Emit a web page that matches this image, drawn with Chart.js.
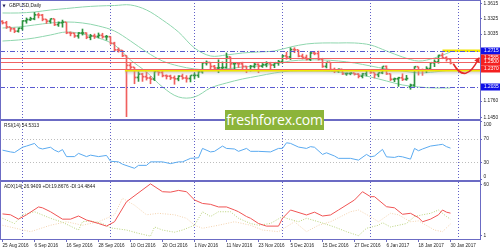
<!DOCTYPE html>
<html><head><meta charset="utf-8">
<script src="https://cdn.jsdelivr.net/npm/chart.js@4.4.1/dist/chart.umd.min.js"></script>
<style>
html,body{margin:0;padding:0;background:#fff;overflow:hidden}
#wrap{position:relative;width:500px;height:250px;background:#fff;overflow:hidden}
canvas{position:absolute;left:0}
.ln{position:absolute;background:#6b6bc4}
#wm{position:absolute;left:225px;top:110px;width:99px;height:20px;background:#8cb43a;color:#fff;font-family:'Open Sans',sans-serif;font-size:14px;line-height:20px;text-align:center;letter-spacing:-0.2px;white-space:nowrap}
</style></head><body>
<div id="wrap">
 <canvas id="cP" width="500" height="120" style="top:0;width:500px;height:120px"></canvas>
 <canvas id="cR" width="500" height="62" style="top:120px;width:500px;height:62px"></canvas>
 <canvas id="cA" width="500" height="68" style="top:182px;width:500px;height:68px"></canvas>
 <div class="ln" style="left:0;top:0;width:481px;height:1px"></div>
 <div class="ln" style="left:0;top:0;width:1px;height:240px"></div>
 <div class="ln" style="left:0;top:119px;width:481px;height:2px"></div>
 <div class="ln" style="left:0;top:180px;width:481px;height:2px"></div>
 <div id="wm">freshforex.com</div>
</div>
<script>
// ---------- data ----------
const symTitle = 'GBPUSD,Daily';
const rsiTitle = 'RSI(14) 54.5313';
const adxTitle = 'ADX(14) 26.9409 +DI:19.8676 -DI:14.4844';

const openP = [
1.3265,1.3240,1.3160,1.3125,1.3080,1.3135,1.3275,1.3300,1.3315,1.3390,
1.3385,1.3305,1.3270,1.3315,1.3205,1.3240,1.3250,1.3050,1.3040,1.2990,
1.3045,1.3045,1.2965,1.2990,1.2980,1.3000,1.2975,1.2975,1.2850,1.2725,
1.2715,1.2615,1.2430,1.2395,1.2200,1.2265,1.2215,1.2190,1.2170,1.2315,
1.2295,1.2235,1.2225,1.2195,1.2175,1.2225,1.2190,1.2180,1.2240,1.2240,
1.2310,1.2480,1.2485,1.2410,1.2380,1.2385,1.2390,1.2590,1.2460,1.2465,
1.2460,1.2410,1.2345,1.2410,1.2450,1.2415,1.2445,1.2475,1.2435,1.2480,
1.2500,1.2610,1.2590,1.2730,1.2725,1.2605,1.2580,1.2545,1.2665,1.2655,
1.2550,1.2410,1.2490,1.2350,1.2330,1.2355,1.2270,1.2275,1.2285,1.2265,
1.2225,1.2270,1.2340,1.2295,1.2255,1.2290,1.2410,1.2270,1.2165,1.2175,
1.2195,1.2165,1.2020,1.2055,1.2405,1.2345,1.2335,1.2370,1.2480,1.2495,
1.2620,1.2575,1.2550];
const highP = [
1.3290,1.3277,1.3165,1.3150,1.3150,1.3290,1.3340,1.3355,1.3445,1.3435,
1.3410,1.3315,1.3325,1.3320,1.3265,1.3300,1.3255,1.3075,1.3055,1.3065,
1.3130,1.3060,1.3030,1.3035,1.3055,1.3050,1.3010,1.2985,1.2880,1.2770,
1.2725,1.2625,1.2495,1.2400,1.2320,1.2290,1.2310,1.2230,1.2330,1.2335,
1.2340,1.2260,1.2255,1.2240,1.2245,1.2275,1.2245,1.2245,1.2295,1.2335,
1.2495,1.2525,1.2495,1.2440,1.2545,1.2505,1.2675,1.2600,1.2485,1.2485,
1.2500,1.2425,1.2440,1.2485,1.2470,1.2475,1.2510,1.2500,1.2495,1.2535,
1.2635,1.2690,1.2775,1.2775,1.2730,1.2655,1.2635,1.2690,1.2700,1.2710,
1.2575,1.2500,1.2495,1.2390,1.2375,1.2365,1.2295,1.2300,1.2295,1.2285,
1.2290,1.2360,1.2350,1.2300,1.2300,1.2415,1.2430,1.2280,1.2200,1.2215,
1.2280,1.2250,1.2085,1.2415,1.2410,1.2370,1.2415,1.2490,1.2545,1.2635,
1.2675,1.2605,1.2565];
const lowP = [
1.3225,1.3140,1.3085,1.3060,1.3070,1.3110,1.3240,1.3290,1.3305,1.3340,
1.3285,1.3235,1.3240,1.3195,1.3180,1.3165,1.3040,1.3000,1.2970,1.2955,
1.3015,1.2945,1.2925,1.2950,1.2960,1.2955,1.2920,1.2840,1.2705,1.2690,
1.2605,1.1465,1.2340,1.2090,1.2135,1.2135,1.2160,1.2090,1.2150,1.2250,
1.2220,1.2180,1.2170,1.2080,1.2145,1.2175,1.2120,1.2125,1.2180,1.2210,
1.2290,1.2445,1.2375,1.2370,1.2300,1.2350,1.2385,1.2385,1.2375,1.2400,
1.2370,1.2300,1.2330,1.2390,1.2300,1.2400,1.2410,1.2375,1.2395,1.2440,
1.2480,1.2555,1.2550,1.2680,1.2600,1.2560,1.2540,1.2530,1.2640,1.2540,
1.2400,1.2390,1.2340,1.2300,1.2305,1.2265,1.2250,1.2260,1.2255,1.2200,
1.2200,1.2240,1.2285,1.2200,1.2220,1.2280,1.2265,1.2150,1.2130,1.2040,
1.2150,1.2155,1.1985,1.2040,1.2255,1.2250,1.2300,1.2360,1.2415,1.2480,
1.2565,1.2520,1.2465];
const closeP = [
1.3240,1.3160,1.3125,1.3080,1.3135,1.3275,1.3300,1.3315,1.3390,1.3385,
1.3305,1.3270,1.3315,1.3205,1.3240,1.3250,1.3050,1.3040,1.2990,1.3045,
1.3045,1.2965,1.2990,1.2980,1.3000,1.2975,1.2975,1.2850,1.2725,1.2715,
1.2615,1.2430,1.2395,1.2200,1.2265,1.2215,1.2190,1.2170,1.2315,1.2295,
1.2235,1.2225,1.2195,1.2175,1.2225,1.2190,1.2180,1.2240,1.2240,1.2310,
1.2480,1.2485,1.2410,1.2380,1.2385,1.2390,1.2590,1.2460,1.2465,1.2460,
1.2410,1.2345,1.2410,1.2450,1.2415,1.2445,1.2475,1.2435,1.2480,1.2500,
1.2610,1.2590,1.2730,1.2725,1.2605,1.2580,1.2545,1.2665,1.2655,1.2550,
1.2410,1.2490,1.2350,1.2330,1.2355,1.2270,1.2275,1.2285,1.2265,1.2225,
1.2270,1.2340,1.2295,1.2255,1.2290,1.2410,1.2270,1.2165,1.2175,1.2195,
1.2165,1.2180,1.2055,1.2405,1.2345,1.2335,1.2370,1.2480,1.2495,1.2620,
1.2575,1.2550,1.2475];

const bbIdx = [0,4,8,12,16,20,24,28,32,36,40,44,48,52,56,60,64,68,72,76,80,84,88,92,96,100,104,108,112];
const bbUpper = [1.3435,1.3435,1.3454,1.3492,1.3520,1.3549,1.3568,1.3577,1.3587,1.3492,1.3302,1.3073,1.2770,1.2618,1.2637,1.2675,1.2694,1.2713,1.2789,1.2846,1.2865,1.2865,1.2865,1.2827,1.2713,1.2599,1.2522,1.2580,1.2694];
const bbMiddle = [1.3150,1.3169,1.3207,1.3245,1.3264,1.3245,1.3188,1.3092,1.2903,1.2694,1.2523,1.2428,1.2371,1.2352,1.2371,1.2409,1.2428,1.2466,1.2523,1.2542,1.2542,1.2523,1.2485,1.2428,1.2371,1.2333,1.2295,1.2314,1.2352];
const bbLower = [1.2902,1.2922,1.2960,1.3017,1.3074,1.3036,1.2960,1.2827,1.2542,1.2314,1.2029,1.1839,1.1839,1.2010,1.2105,1.2181,1.2238,1.2295,1.2333,1.2333,1.2333,1.2314,1.2276,1.2219,1.2143,1.2067,1.2029,1.2010,1.2010];

const rsiIdx = [0,2,3,5,6,8,9,10,12,13,14,15,16,18,19,21,22,24,26,27,29,30,33,34,36,37,40,42,44,45,46,47,49,50,52,53,55,56,58,59,61,62,64,67,69,70,71,72,74,76,77,78,80,81,83,84,87,89,91,92,93,95,96,98,99,100,102,103,104,105,107,109,110,111,112];
const rsiVal = [51,48,47,56,58,62.5,55,53,56,51,48,52,40,40,45.5,40,42.5,40,42,32,31,27,20,25,25,31,31,28,31,31,34,37,38,54,48,49,58,54,53,49,54,49,49,48,54,54,63.6,62.6,56.3,54,57,56,43.7,46.5,41,37,37,34,43.7,39.6,41,52.3,39.6,38.6,40.5,39.6,35.7,54,50,53,58,60,61,57,54.5];

const adxIdx = [0,2,4,6,9,10,12,15,17,19,21,24,26,28,31,37,40,42,44,46,48,50,52,54,56,58,59,61,62,64,66,69,70,72,76,78,80,82,84,88,90,92,93,96,98,100,102,104,105,107,109,110,111,112];
const adxVal = [26,25,20,25,34,33,28.5,20,20,23.6,19,15,12,17,40,60.5,51.5,51,53,51.5,42,38,37,34,34,30.5,28.5,23,21,15,12,12,21,30.5,24.8,28,23.6,24.8,30.5,42,51.5,45.8,45.8,34.3,33,25.6,26.7,21.7,17,20,25,30.5,28,26.9];
const pdiIdx = [0,3,5,8,12,15,19,20,22,25,27,31,34,37,38,40,43,45,48,50,52,54,57,59,62,64,67,70,71,74,76,79,83,86,89,91,94,95,97,101,103,105,107,109,111,112];
const pdiVal = [21,15,25,28.5,21,16.4,7.5,17,18,15,10,7.5,3.7,0.5,11,7.5,5,7.5,13,28.5,23,28.5,28.5,21,15,13,15,23,21,17,21,17,11,5.6,1,9.5,13,16,11,15,23,25,26.7,30.5,23,19.9];
const mdiIdx = [0,7,12,16,20,24,28,30,33,36,39,43,46,48,50,54,58,62,65,69,73,76,79,82,87,89,92,94,97,99,102,104,108,110,112];
const mdiVal = [13,5.6,13,17,13,17,25,44,36,25,26.7,25,21,13,9.5,13,17,13,7.5,5.6,17,5.6,13,17,28.5,30.5,22.8,17,26.7,25,17,18,7.5,5.6,14.5];

const priceTicks = [1.3615,1.3325,1.3035,1.1760,1.1450];
const rsiTicks = [100,70,30,0];
const rsiLevels = [70,30];
const adxTicks = [60,1];
const dateTickIdx = [0,8,16,24,32,40,48,56,64,72,80,88,96,104,112];
const dateTickLabels = ['25 Aug 2016','6 Sep 2016','16 Sep 2016','28 Sep 2016','10 Oct 2016','20 Oct 2016','1 Nov 2016','11 Nov 2016','23 Nov 2016','5 Dec 2016','15 Dec 2016','27 Dec 2016','6 Jan 2017','18 Jan 2017','30 Jan 2017'];
const monthStartIdx = [5,27,48,70,92,114];

const redLevels = [1.2585,1.2500,1.2370];
const blueLevels = [1.2715,1.2035];
const supportZone = [1.2346,1.2240];
const supportFromIdx = 30.6;
const resistYellow = 1.2715;
const resistFromIdx = 110;
const arrowPts = [[112.7,1.2470],[115.8,1.2290],[119,1.2565]];

// ---------- styling ----------
const AX = '#6b6bc4';
const FONT = 'Liberation Sans';
const FS = 4.8;
const upCol = '#2e9440', dnCol = '#f0605e';
const bandCol = '#8fd6ae';
const X_MIN = -0.625, X_MAX = 119.375;

const xHidden = {type:'linear', min:X_MIN, max:X_MAX, display:false, offset:false};
function rightAxis(min, max, ticks, fmt, extra){
  return Object.assign({
    position:'right', min, max,
    afterFit(s){ s.width = 20; s.paddingTop = 0; s.paddingBottom = 0; },
    afterBuildTicks(s){ s.ticks = ticks.map(v => ({value:v})); },
    ticks:{font:{family:FONT, size:FS}, color:'#222', padding:1.5, autoSkip:false, callback:fmt},
    grid:{drawOnChartArea:false, drawTicks:true, tickLength:2, color:AX},
    border:{display:true, color:AX, width:1}
  }, extra || {});
}
const baseOpts = {responsive:false, animation:false, devicePixelRatio:1, events:[],
  layout:{padding:0}, plugins:{legend:{display:false}, tooltip:{enabled:false}}};

function monthLines(chart){
  const {ctx, chartArea:a, scales:{x}} = chart;
  ctx.save(); ctx.strokeStyle = '#6060c8'; ctx.lineWidth = 1; ctx.setLineDash([1,2]);
  monthStartIdx.forEach(i => {
    const px = Math.floor(x.getPixelForValue(i)) + 0.5;
    ctx.beginPath(); ctx.moveTo(px, a.top); ctx.lineTo(px, a.bottom); ctx.stroke();
  });
  ctx.restore();
}
function hline(ctx, a, y, x0, col, w, dash){
  ctx.save(); ctx.strokeStyle = col; ctx.lineWidth = w; ctx.setLineDash(dash || []);
  ctx.beginPath(); ctx.moveTo(x0, y); ctx.lineTo(a.right, y); ctx.stroke(); ctx.restore();
}

const priceDecor = {
  id:'priceDecor',
  beforeDatasetsDraw(chart){ monthLines(chart); },
  afterDatasetsDraw(chart){
    const {ctx, chartArea:a, scales:{x, y}} = chart;
    // support zone shading + yellow line
    const zx = x.getPixelForValue(supportFromIdx);
    const zy0 = y.getPixelForValue(supportZone[0]), zy1 = y.getPixelForValue(supportZone[1]);
    const g = ctx.createLinearGradient(0, zy0, 0, zy1);
    g.addColorStop(0, 'rgba(140,140,140,0.55)'); g.addColorStop(1, 'rgba(210,210,210,0)');
    ctx.fillStyle = g; ctx.fillRect(zx, zy0, a.right - zx, zy1 - zy0);
    hline(ctx, a, zy0, zx, '#f2e600', 2.5);
    hline(ctx, a, y.getPixelForValue(resistYellow), x.getPixelForValue(resistFromIdx), '#f2e600', 2.5);
    redLevels.forEach(v => hline(ctx, a, Math.round(y.getPixelForValue(v)) + 0.5, a.left, '#f06262', 1));
    blueLevels.forEach(v => hline(ctx, a, Math.round(y.getPixelForValue(v)) + 0.5, a.left, '#5a5ad0', 1, [5,2,1,2]));
    // red arrow
    const p = arrowPts.map(([i, v]) => [x.getPixelForValue(i), y.getPixelForValue(v)]);
    const c = [2*p[1][0] - (p[0][0]+p[2][0])/2, 2*p[1][1] - (p[0][1]+p[2][1])/2];
    ctx.save(); ctx.strokeStyle = '#e42b2b'; ctx.fillStyle = '#e42b2b'; ctx.lineWidth = 1.6;
    ctx.beginPath(); ctx.moveTo(p[0][0], p[0][1]); ctx.quadraticCurveTo(c[0], c[1], p[2][0], p[2][1]); ctx.stroke();
    const ang = Math.atan2(p[2][1]-c[1], p[2][0]-c[0]);
    const dx = Math.cos(ang), dy = Math.sin(ang);
    ctx.beginPath();
    ctx.moveTo(p[2][0] + 2*dx, p[2][1] + 2*dy);
    ctx.lineTo(p[2][0] - 3.5*dx - 3*dy, p[2][1] - 3.5*dy + 3*dx);
    ctx.lineTo(p[2][0] - 3.5*dx + 3*dy, p[2][1] - 3.5*dy - 3*dx);
    ctx.closePath(); ctx.fill(); ctx.restore();
  },
  afterDraw(chart){
    const {ctx, scales:{y}} = chart;
    const boxes = blueLevels.map(v => [v, '#1010e8']).concat(redLevels.map(v => [v, '#f42020']));
    ctx.save(); ctx.textBaseline = 'middle'; ctx.font = FS + 'px ' + FONT;
    boxes.forEach(([v, col]) => {
      const py = Math.round(y.getPixelForValue(v));
      ctx.fillStyle = col; ctx.fillRect(481, py - 3.5, 19, 7);
    });
    boxes.forEach(([v]) => {
      const py = Math.round(y.getPixelForValue(v));
      ctx.fillStyle = '#fff'; ctx.fillText(v.toFixed(4), 484, py);
    });
    ctx.fillStyle = '#20205a'; ctx.font = '4px DejaVu Sans'; ctx.fillText('\u25BC', 2.5, 5.5);
    ctx.fillStyle = '#222'; ctx.font = FS + 'px ' + FONT; ctx.fillText(symTitle, 9, 5.5);
    ctx.restore();
  }
};

const idx = openP.map((_, i) => i);
const barCols = closeP.map((c, i) => c >= openP[i] ? upCol : dnCol);
const line = (xs, ys, col, extra) => Object.assign({type:'line', data: xs.map((v, k) => ({x:v, y:ys[k]})),
  borderColor:col, borderWidth:1, pointRadius:0, fill:false, tension:0}, extra || {});

new Chart(document.getElementById('cP'), {
  type:'bar',
  data:{datasets:[
    {type:'bar', data: idx.map(i => ({x:i - 0.25, y:[openP[i], openP[i]]})), backgroundColor:barCols, barThickness:1, minBarLength:1, grouped:false, order:0},
    {type:'bar', data: idx.map(i => ({x:i + 0.25, y:[closeP[i], closeP[i]]})), backgroundColor:barCols, barThickness:1, minBarLength:1, grouped:false, order:1},
    {type:'bar', data: idx.map(i => ({x:i, y:[lowP[i], highP[i]]})), backgroundColor:barCols, barThickness:1, minBarLength:1, grouped:false, order:2},
    line(bbIdx, bbUpper, bandCol, {tension:0.35, order:3}),
    line(bbIdx, bbMiddle, bandCol, {tension:0.35, order:4}),
    line(bbIdx, bbLower, bandCol, {tension:0.35, order:5})
  ]},
  options: Object.assign({}, baseOpts, {
    scales:{x: xHidden, y: rightAxis(1.14015, 1.36815, priceTicks, v => Number(v).toFixed(4))}
  }),
  plugins:[priceDecor]
});

const rsiDecor = {
  id:'rsiDecor',
  beforeDatasetsDraw(chart){
    monthLines(chart);
    const {ctx, chartArea:a, scales:{y}} = chart;
    rsiLevels.forEach(v => hline(ctx, a, Math.round(y.getPixelForValue(v)) + 0.5, a.left, '#bdbdbd', 1, [1,2]));
  },
  afterDraw(chart){
    const {ctx} = chart;
    ctx.save(); ctx.textBaseline = 'middle'; ctx.fillStyle = '#222'; ctx.font = FS + 'px ' + FONT;
    ctx.fillText(rsiTitle, 4, 5.7); ctx.restore();
  }
};
new Chart(document.getElementById('cR'), {
  type:'line',
  data:{datasets:[ line(rsiIdx, rsiVal, '#5aaaf0') ]},
  options: Object.assign({}, baseOpts, {
    scales:{x: xHidden, y: rightAxis(-3.419, 102.564, rsiTicks, v => String(v), {
      afterUpdate(s){
        if (s._wrapped) return; s._wrapped = true;
        const orig = s._computeLabelItems.bind(s);
        s._computeLabelItems = function(ca){
          const items = orig(ca);
          items.forEach(it => {
            if (!it || !it.options || !it.options.translation) return;
            if (it.label === '100') it.options.translation[1] += 3.5;
            if (it.label === '0') it.options.translation[1] -= 3;
          });
          return items;
        };
      }
    })}
  }),
  plugins:[rsiDecor]
});

const adxDecor = {
  id:'adxDecor',
  beforeDatasetsDraw(chart){ monthLines(chart); },
  afterDraw(chart){
    const {ctx} = chart;
    ctx.save(); ctx.textBaseline = 'middle'; ctx.fillStyle = '#222'; ctx.font = FS + 'px ' + FONT;
    ctx.fillText(adxTitle, 4, 4.5); ctx.restore();
  }
};
new Chart(document.getElementById('cA'), {
  type:'line',
  data:{datasets:[
    line(adxIdx, adxVal, '#f05454', {order:0}),
    line(pdiIdx, pdiVal, '#b9d27a', {borderDash:[1,1.5], order:1}),
    line(mdiIdx, mdiVal, '#f3d2ae', {borderDash:[1,1.5], order:2})
  ]},
  options: Object.assign({}, baseOpts, {
    scales:{
      x:{type:'linear', min:X_MIN, max:X_MAX, offset:false,
        afterFit(s){ s.height = 11; s.paddingLeft = 0; s.paddingRight = 0; },
        afterBuildTicks(s){ s.ticks = dateTickIdx.map(v => ({value:v})); },
        ticks:{autoSkip:false, maxRotation:0, minRotation:0, align:'start', padding:1,
          font:{family:FONT, size:4.6}, color:'#222',
          callback:(v) => { const k = dateTickIdx.indexOf(v); return k >= 0 ? dateTickLabels[k] : ''; }},
        grid:{drawOnChartArea:false, drawTicks:true, tickLength:3, color:AX},
        border:{display:true, color:AX, width:1}
      },
      y: rightAxis(-2.79, 62.64, adxTicks, v => String(v))
    }
  }),
  plugins:[adxDecor]
});
</script>
</body></html>
